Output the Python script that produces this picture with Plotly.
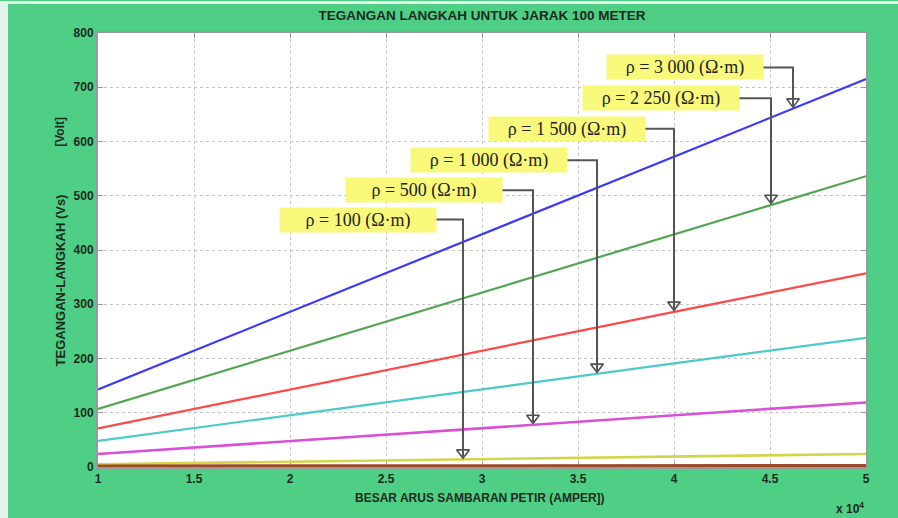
import numpy as np
import plotly.graph_objects as go

# ---------------- data ----------------
current_A = [10000, 20000, 30000, 40000, 50000]
x_tick_vals = [10000, 15000, 20000, 25000, 30000, 35000, 40000, 45000, 50000]
x_tick_text = ["1", "1.5", "2", "2.5", "3", "3.5", "4", "4.5", "5"]
y_tick_vals = [0, 100, 200, 300, 400, 500, 600, 700, 800]
y_tick_text = ["0", "100", "200", "300", "400", "500", "600", "700", "800"]

v_rho_3000 = [143, 286, 429, 572, 715]
v_rho_2250 = [107, 214, 321, 429, 536]
v_rho_1500 = [71, 143, 214, 286, 357]
v_rho_1000 = [48, 95, 143, 191, 238]
v_rho_500 = [24, 48, 71, 95, 119]
v_rho_100 = [5, 10, 14, 19, 24]
v_rho_low = [1, 1, 1.5, 1.5, 2]

rho_labels = ["ρ = 3 000 (Ω·m)", "ρ = 2 250 (Ω·m)", "ρ = 1 500 (Ω·m)",
              "ρ = 1 000 (Ω·m)", "ρ = 500 (Ω·m)", "ρ = 100 (Ω·m)"]

# ---------------- layout helpers ----------------
series = [v_rho_3000, v_rho_2250, v_rho_1500, v_rho_1000, v_rho_500, v_rho_100, v_rho_low]
colors = ["#3a3aff", "#52a552", "#ff4848", "#4ccaca", "#d850d8", "#d4d448", "#9c4a2a"]
widths = [2.2, 2.2, 2.2, 2.2, 2.6, 2.6, 4]

# label box centres (data coords) and arrow x positions
label_x = [40573, 39323, 34427, 30365, 26953, 23516]
label_y = [736.6, 679.5, 623.4, 565.5, 510.3, 456.0]
arrow_x = [46198, 45052, 40000, 35990, 32656, 29010]

PX_PER_V = 435 / 800.0

fig = go.Figure()
for vals, c, w in zip(series, colors, widths):
    fig.add_trace(go.Scatter(x=current_A, y=vals, mode="lines",
                             line=dict(color=c, width=w), showlegend=False,
                             hoverinfo="skip"))

shapes = []
tri_x, tri_y = [], []
for i in range(6):
    tip = float(np.interp(arrow_x[i], current_A, series[i]))
    centre = tip + 7 / PX_PER_V
    shapes.append(dict(type="path", xref="x", yref="y",
                       path=f"M {label_x[i]},{label_y[i]} H {arrow_x[i]} V {tip + 3 / PX_PER_V}",
                       line=dict(color="#555555", width=2), layer="above"))
    tri_x.append(arrow_x[i])
    tri_y.append(centre)

fig.add_trace(go.Scatter(x=tri_x, y=tri_y, mode="markers",
                         marker=dict(symbol="triangle-down-open", size=11,
                                     color="#505050", line=dict(width=1.6, color="#505050")),
                         showlegend=False, hoverinfo="skip", cliponaxis=False))

# light left/top border strips
shapes.append(dict(type="rect", xref="paper", yref="paper",
                   x0=-98 / 768, x1=-90 / 768, y0=-51 / 435, y1=467 / 435,
                   fillcolor="#e4f3e9", line=dict(width=0), layer="above"))
shapes.append(dict(type="rect", xref="paper", yref="paper",
                   x0=-98 / 768, x1=800 / 768, y0=464 / 435, y1=467 / 435,
                   fillcolor="#e4f3e9", line=dict(width=0), layer="above"))

annotations = []
for i in range(6):
    annotations.append(dict(x=label_x[i], y=label_y[i], xref="x", yref="y",
                            text=rho_labels[i], showarrow=False,
                            font=dict(family="Liberation Serif, Times New Roman, serif",
                                      size=18, color="#222222"),
                            bgcolor="#f8f87a", width=150, height=18, borderpad=3,
                            xanchor="center", yanchor="middle"))

axis_font = dict(family="Liberation Sans, Arial, sans-serif", size=12,
                 color="#1c2a20", weight="bold")
ylab_font = dict(family="Liberation Sans, Arial, sans-serif", size=13,
                 color="#1c2a20", weight="bold")
annotations.append(dict(x=-38 / 768, y=(467 - 280) / 435, xref="paper", yref="paper",
                        text="TEGANGAN-LANGKAH (Vs)", textangle=-90, showarrow=False,
                        font=ylab_font, xanchor="center", yanchor="middle"))
annotations.append(dict(x=-38 / 768, y=(467 - 131) / 435, xref="paper", yref="paper",
                        text="[Volt]", textangle=-90, showarrow=False,
                        font=axis_font, xanchor="center", yanchor="middle"))
annotations.append(dict(x=(480 - 98) / 768, y=(467 - 498) / 435, xref="paper", yref="paper",
                        text="BESAR ARUS SAMBARAN PETIR (AMPER])", showarrow=False,
                        font=axis_font, xanchor="center", yanchor="middle"))
annotations.append(dict(x=1.0, y=(467 - 508) / 435, xref="paper", yref="paper",
                        text="x 10<sup>4</sup>", showarrow=False,
                        font=axis_font, xanchor="right", yanchor="middle"))

grid = dict(showgrid=True, gridcolor="#c4c4c4", griddash="dot", gridwidth=1,
            showline=True, linecolor="#9a9a9a", linewidth=2, mirror="ticks",
            ticks="inside", ticklen=5, tickcolor="#9a9a9a", tickwidth=1,
            zeroline=False, layer="below traces", tickfont=axis_font)

fig.update_layout(
    width=898, height=518,
    margin=dict(l=98, r=32, t=33, b=51),
    paper_bgcolor="#4fcf85", plot_bgcolor="#ffffff",
    title=dict(text="TEGANGAN LANGKAH UNTUK JARAK 100 METER",
               x=(482 - 0) / 898, xanchor="center", y=1 - 15 / 518, yanchor="middle",
               yref="container",
               font=dict(family="Liberation Sans, Arial, sans-serif", size=13.5,
                         color="#1c2a20", weight="bold")),
    xaxis=dict(range=[10000, 50000], tickvals=x_tick_vals, ticktext=x_tick_text, **grid),
    yaxis=dict(range=[0, 800], tickvals=y_tick_vals, ticktext=y_tick_text, **grid),
    shapes=shapes, annotations=annotations, showlegend=False,
)

fig.write_html("out.html", config={"displayModeBar": False},
               post_script="document.body.style.margin='0';document.body.style.overflow='hidden';")
